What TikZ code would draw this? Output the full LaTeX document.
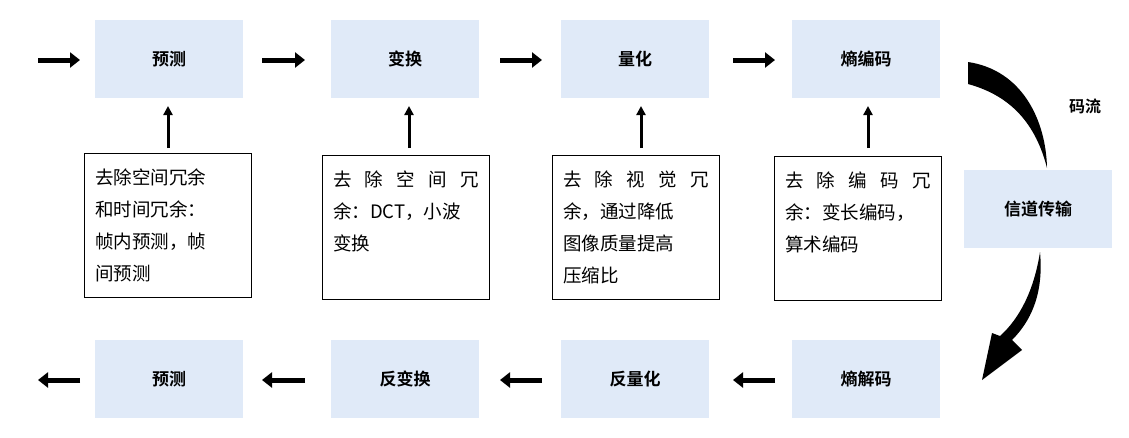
\documentclass[tikz,border=0pt]{standalone}
\usepackage{fontspec}
\setmainfont{Liberation Serif}
\newfontfamily\cjk{Noto Sans CJK SC}
\newfontfamily\cjkb{Noto Sans CJK SC Bold}
\usetikzlibrary{arrows.meta}
\newcommand{\spreadline}[5]{\makebox[146pt]{#1\hfill#2\hfill#3\hfill#4\hfill#5}}
\begin{document}
\begin{tikzpicture}[x=1pt,y=-1pt,
 blue/.style={fill=cyan!60!blue!12,minimum width=148pt,minimum height=78pt,inner sep=0pt,font=\cjkb\fontsize{17}{20}\selectfont},
 txt/.style={draw,line width=0.8pt,minimum width=167pt,minimum height=144pt,text width=146pt,align=left,font=\cjk\fontsize{18.5}{32}\selectfont},
 harr/.style={line width=5pt,-{Triangle[length=10pt,width=15pt]}},
 varr/.style={line width=3pt,-{Triangle[length=9pt,width=9pt]}}]
\useasboundingbox (0,0) rectangle (1129,437);
\node[blue] (p1) at (169,59) {预测};
\node[blue] (t1) at (405,59) {变换};
\node[blue] (q1) at (635,59) {量化};
\node[blue] (e1) at (866,59) {熵编码};
\node[blue] (ch) at (1038,209) {信道传输};
\node[blue] (p2) at (169,379) {预测};
\node[blue] (t2) at (405,379) {反变换};
\node[blue] (q2) at (635,379) {反量化};
\node[blue] (e2) at (866,379) {熵解码};
\node[font=\cjkb\fontsize{16}{18}\selectfont] (ml) at (1085,106) {码流};
\node[txt] (b1) at (168,225) {去除空间冗余\\和时间冗余：\\帧内预测，帧\\间预测};
\node[txt] (b2) at (406,227) {\spreadline{去}{除}{空}{间}{冗}\\余：DCT，小波\\变换\\\mbox{}};
\node[txt] (b3) at (636,227) {\spreadline{去}{除}{视}{觉}{冗}\\余，通过降低\\图像质量提高\\压缩比};
\node[txt] (b4) at (858,228) {\spreadline{去}{除}{编}{码}{冗}\\余：变长编码，\\算术编码\\\mbox{}};
\foreach \b/\t/\x in {b1/p1/168,b2/t1/409,b3/q1/641,b4/e1/868} {
 \coordinate (c\b) at (\x,148); \coordinate (d\b) at (\x,106);
 \draw[varr] (c\b) -- (d\b);}
\foreach \a/\b in {38/80,262/305,500/542,733/775} {
 \coordinate (s\a) at (\a,60); \coordinate (f\a) at (\b,60);
 \draw[harr] (s\a) -- (f\a);
 \coordinate (u\a) at (\b,380); \coordinate (v\a) at (\a,380);
 \draw[harr] (u\a) -- (v\a);}
\fill (968,62) .. controls (1022,70) and (1046,120) .. (1047,168) .. controls (1036,125) and (1012,96) .. (968,84) -- cycle;
\fill (1040,252) .. controls (1044,295) and (1030,322) .. (1012,340) -- (1022,350) -- (982,380) -- (992,333) -- (1000,336) .. controls (1020,318) and (1034,290) .. (1040,252) -- cycle;
\end{tikzpicture}
\end{document}
